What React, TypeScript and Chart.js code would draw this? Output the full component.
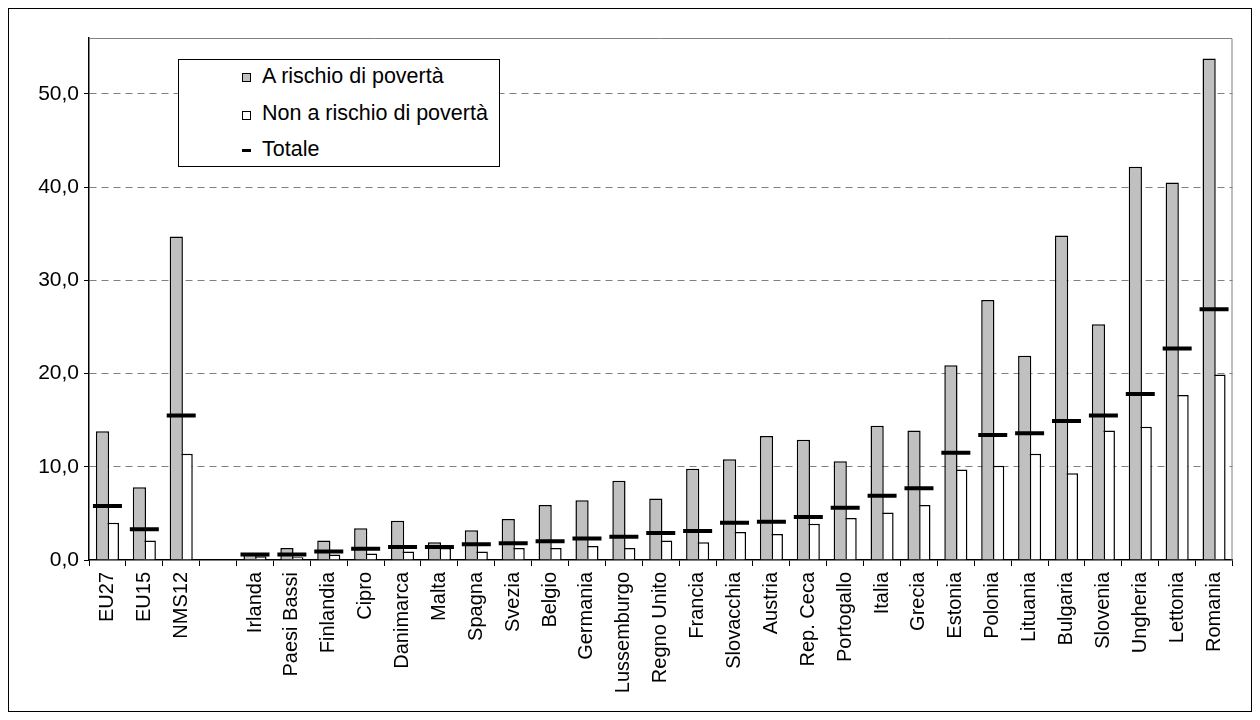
import React, { useEffect, useRef } from "react";
import { Chart, registerables } from "chart.js";

Chart.register(...registerables);

const categories = [
  "EU27", "EU15", "NMS12", "",
  "Irlanda", "Paesi Bassi", "Finlandia", "Cipro", "Danimarca", "Malta", "Spagna",
  "Svezia", "Belgio", "Germania", "Lussemburgo", "Regno Unito", "Francia",
  "Slovacchia", "Austria", "Rep. Ceca", "Portogallo", "Italia", "Grecia",
  "Estonia", "Polonia", "Lituania", "Bulgaria", "Slovenia", "Ungheria",
  "Lettonia", "Romania",
];

const aRischio = [
  13.8, 7.8, 34.7, null,
  0.7, 1.3, 2.1, 3.4, 4.2, 1.9, 3.2,
  4.4, 5.9, 6.4, 8.5, 6.6, 9.8,
  10.8, 13.3, 12.9, 10.6, 14.4, 13.9,
  20.9, 27.9, 21.9, 34.8, 25.3, 42.2,
  40.5, 53.8,
];

const nonARischio = [
  4.0, 2.1, 11.4, null,
  0.4, 0.3, 0.6, 0.7, 0.9, 1.3, 0.9,
  1.3, 1.3, 1.5, 1.3, 2.1, 1.9,
  3.0, 2.8, 3.9, 4.5, 5.1, 5.9,
  9.7, 10.1, 11.4, 9.3, 13.9, 14.3,
  17.7, 19.9,
];

const totale = [
  5.8, 3.3, 15.5, null,
  0.6, 0.6, 0.9, 1.2, 1.4, 1.4, 1.7,
  1.8, 2.0, 2.3, 2.5, 2.9, 3.1,
  4.0, 4.1, 4.6, 5.6, 6.9, 7.7,
  11.5, 13.4, 13.6, 14.9, 15.5, 17.8,
  22.7, 26.9,
];

const yTicks = [0, 10, 20, 30, 40, 50];
const yMax = 56;

const seriesLabels = ["A rischio di povertà", "Non a rischio di povertà", "Totale"];

const FONT = "'Liberation Sans', Arial, Helvetica, sans-serif";

export default function App() {
  const ref = useRef<HTMLCanvasElement | null>(null);

  useEffect(() => {
    if (!ref.current) return;
    const plotFrame = {
      id: "plotFrame",
      beforeDatasetsDraw(chart: any) {
        const { ctx, chartArea } = chart;
        const { left, top, right, bottom } = chartArea;
        ctx.save();
        ctx.strokeStyle = "#808080";
        ctx.lineWidth = 1;
        ctx.beginPath();
        ctx.moveTo(left, top + 0.5);
        ctx.lineTo(right - 0.5, top + 0.5);
        ctx.lineTo(right - 0.5, bottom);
        ctx.stroke();
        ctx.restore();
      },
    };

    const chart = new Chart(ref.current, {
      type: "bar",
      data: {
        labels: categories,
        datasets: [
          {
            label: seriesLabels[0],
            data: aRischio,
            backgroundColor: "#c0c0c0",
            borderColor: "#000000",
            borderWidth: 1.5,
            barPercentage: 1.34,
            categoryPercentage: 0.535,
            order: 1,
          },
          {
            label: seriesLabels[1],
            data: nonARischio,
            backgroundColor: "#ffffff",
            borderColor: "#000000",
            borderWidth: 1.5,
            barPercentage: 1.34,
            categoryPercentage: 0.535,
            order: 2,
          },
          {
            type: "line",
            label: seriesLabels[2],
            data: totale,
            showLine: false,
            pointStyle: "line",
            pointRadius: 14.5,
            pointHoverRadius: 14.5,
            pointBorderWidth: 4,
            pointBorderColor: "#000000",
            borderColor: "#000000",
            order: 0,
          } as any,
        ],
      },
      options: {
        responsive: false,
        animation: false,
        devicePixelRatio: 1,
        layout: { padding: { top: 29, right: 4, left: 0, bottom: 0 } },
        plugins: {
          legend: { display: false },
          tooltip: { enabled: false },
        },
        scales: {
          x: {
            grid: {
              display: true,
              drawOnChartArea: false,
              drawTicks: true,
              tickLength: 6,
              color: "#000000",
              offset: true,
            },
            border: { color: "#000000", width: 1.5 },
            ticks: {
              autoSkip: false,
              maxRotation: 90,
              minRotation: 90,
              padding: 6,
              color: "#000000",
              font: { family: FONT, size: 20 },
            },
            afterFit: (s: any) => {
              s.height = 151;
            },
          },
          y: {
            min: 0,
            max: yMax,
            afterBuildTicks: (s: any) => {
              s.ticks = yTicks.map((v) => ({ value: v }));
            },
            ticks: {
              padding: 5,
              color: "#000000",
              font: { family: FONT, size: 21 },
              callback: (v: any) => Number(v).toFixed(1).replace(".", ","),
            },
            grid: {
              color: (c: any) =>
                c.tick && c.tick.value === 0 ? "rgba(0,0,0,0)" : "#808080",
              tickColor: "#000000",
              tickLength: 5,
              lineWidth: 1,
            },
            border: { color: "#000000", width: 1.5, dash: [7, 5] },
            afterFit: (s: any) => {
              s.width = 80;
            },
          },
        },
      },
      plugins: [plotFrame],
    });
    return () => chart.destroy();
  }, []);

  const rowStyle = (top: number): React.CSSProperties => ({
    position: "absolute",
    left: 0,
    top,
    height: 26,
    lineHeight: "26px",
    width: "100%",
  });

  return (
    <div
      style={{
        position: "relative",
        width: 1242,
        height: 702,
        border: "1px solid #000",
        fontFamily: FONT,
        background: "#fff",
      }}
    >
      <canvas ref={ref} width={1242} height={702} style={{ display: "block" }} />
      <div
        style={{
          position: "absolute",
          left: 169,
          top: 50,
          width: 320,
          height: 106,
          border: "1px solid #000",
          background: "#fff",
          fontSize: 21.5,
          color: "#000",
        }}
      >
        <div style={rowStyle(3)}>
          <span
            style={{
              position: "absolute",
              left: 63,
              top: 10,
              width: 7,
              height: 7,
              background: "#c0c0c0",
              border: "1px solid #000",
            }}
          />
          <span style={{ position: "absolute", left: 83 }}>{seriesLabels[0]}</span>
        </div>
        <div style={rowStyle(40)}>
          <span
            style={{
              position: "absolute",
              left: 63,
              top: 11,
              width: 7,
              height: 7,
              background: "#ffffff",
              border: "1px solid #000",
            }}
          />
          <span style={{ position: "absolute", left: 83 }}>{seriesLabels[1]}</span>
        </div>
        <div style={rowStyle(76)}>
          <span
            style={{
              position: "absolute",
              left: 63,
              top: 13,
              width: 9,
              height: 3,
              background: "#000",
            }}
          />
          <span style={{ position: "absolute", left: 83 }}>{seriesLabels[2]}</span>
        </div>
      </div>
    </div>
  );
}
